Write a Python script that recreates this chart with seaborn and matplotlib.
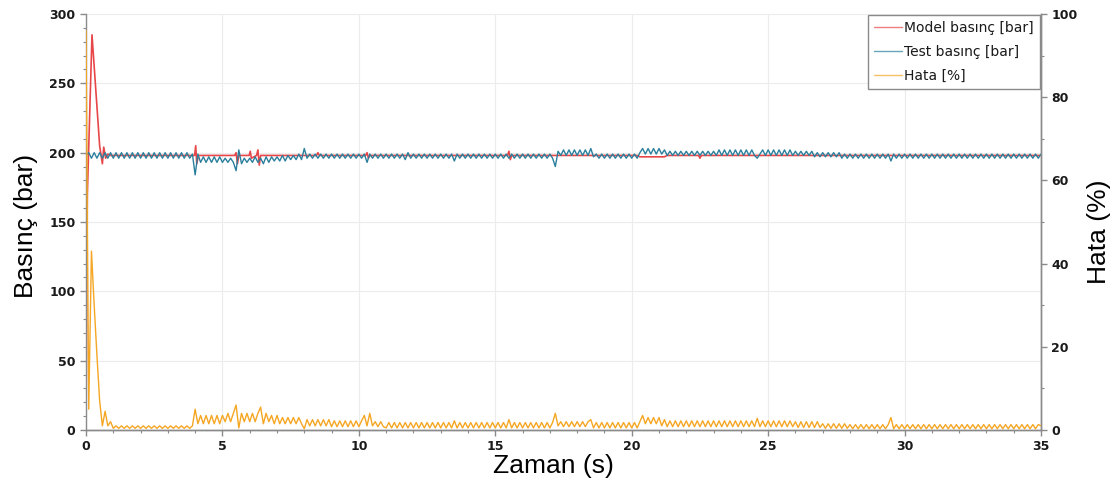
import numpy as np
import pandas as pd
import matplotlib
matplotlib.use("Agg")
import matplotlib.pyplot as plt
from matplotlib.ticker import MultipleLocator
import seaborn as sns

# ---------------- data ----------------
# Model pressure [bar]: breakpoints
model_t = [0.0, 0.05, 0.22, 0.5, 0.6, 0.65, 0.72, 0.8, 0.9,
           3.98, 4.02, 4.06, 4.12, 5.45, 5.5, 5.55, 5.6,
           5.98, 6.02, 6.06, 6.25, 6.3, 6.35, 6.4,
           8.45, 8.5, 8.55, 10.25, 10.3, 10.35, 10.4,
           15.45, 15.5, 15.55, 15.6, 20.2, 20.3, 21.2, 21.3,
           22.45, 22.5, 22.55, 35.0]
model_p = [5, 170, 285, 205, 192, 204, 196, 199, 198,
           198, 205, 192, 198, 198, 200, 192, 198,
           198, 201, 196, 198, 202, 191, 198,
           198, 200, 198, 198, 200, 196, 198,
           198, 201, 195, 198, 198, 197, 197, 198,
           198, 196, 198, 198]

# Test pressure [bar], sampled every 0.1 s
test_p = (
    [198, 200, 196, 200, 196, 200, 196, 200, 196, 200] +   # 0
    [196, 200, 196, 200, 196, 200, 196, 200, 196, 200] +   # 1
    [196, 200, 196, 200, 196, 200, 196, 200, 196, 200] +   # 2
    [196, 200, 196, 200, 196, 200, 196, 200, 196, 199] +   # 3
    [184, 199, 193, 197, 193, 197, 193, 197, 193, 197] +   # 4
    [193, 196, 193, 196, 193, 187, 202, 192, 196, 193] +   # 5
    [196, 193, 197, 193, 196, 192, 197, 193, 197, 194] +   # 6
    [197, 194, 198, 194, 198, 195, 198, 195, 199, 195] +   # 7
    [203, 196, 199, 196, 199, 196, 199, 196, 199, 196] +   # 8
    [199, 196, 199, 196, 199, 196, 199, 196, 199, 196] +   # 9
    [199, 196, 199, 193, 199, 196, 199, 196, 199, 196] +   # 10
    [199, 196, 199, 196, 199, 196, 199, 195, 200, 196] +   # 11
    [199, 196, 199, 196, 199, 196, 199, 196, 199, 196] +   # 12
    [199, 196, 199, 196, 199, 194, 199, 196, 199, 196] +   # 13
    [199, 196, 199, 196, 199, 196, 199, 196, 199, 196] +   # 14
    [199, 196, 199, 196, 199, 196, 199, 196, 199, 196] +   # 15
    [199, 196, 199, 196, 199, 196, 199, 196, 199, 196] +   # 16
    [199, 196, 190, 201, 198, 202, 198, 202, 198, 202] +   # 17
    [198, 202, 198, 202, 198, 203, 197, 199, 196, 199] +   # 18
    [196, 199, 196, 199, 196, 199, 196, 199, 196, 199] +   # 19
    [196, 199, 196, 200, 203, 199, 203, 199, 203, 199] +   # 20
    [203, 199, 202, 198, 201, 198, 201, 198, 201, 198] +   # 21
    [201, 198, 201, 198, 201, 198, 201, 198, 201, 198] +   # 22
    [201, 198, 202, 198, 202, 198, 202, 198, 202, 198] +   # 23
    [202, 198, 202, 198, 202, 198, 196, 199, 202, 198] +   # 24
    [202, 198, 202, 198, 202, 198, 202, 198, 202, 198] +   # 25
    [201, 198, 201, 198, 201, 198, 201, 197, 200, 197] +   # 26
    [200, 197, 200, 197, 200, 197, 200, 196, 199, 196] +   # 27
    [199, 196, 199, 196, 199, 196, 199, 196, 199, 196] +   # 28
    [199, 196, 199, 196, 199, 194, 199, 196, 199, 196] +   # 29
    [199, 196, 199, 196, 199, 196, 199, 196, 199, 196] +   # 30
    [199, 196, 199, 196, 199, 196, 199, 196, 199, 196] +   # 31
    [199, 196, 199, 196, 199, 196, 199, 196, 199, 196] +   # 32
    [199, 196, 199, 196, 199, 196, 199, 196, 199, 196] +   # 33
    [199, 196, 199, 196, 199, 196, 199, 196, 199, 196] +   # 34
    [199]
)

# Error [%], sampled every 0.1 s
hata = (
    [96, 5, 43, 30, 18, 7, 1, 4.5, 1, 2] +                          # 0
    [0.4, 1, 0.4, 1, 0.4, 1, 0.4, 1, 0.4, 1] +                      # 1
    [0.4, 1, 0.4, 1, 0.4, 1, 0.4, 1, 0.4, 1] +                      # 2
    [0.4, 1, 0.4, 1, 0.4, 1, 0.4, 1, 0.4, 1] +                      # 3
    [5, 1.5, 3.5, 1.5, 3.5, 1.5, 3.5, 1.5, 3.5, 1.5] +              # 4
    [3.5, 2, 4, 2, 4, 6, 0.5, 4, 2, 4] +                            # 5
    [2, 4, 2, 4, 5.5, 1.5, 4, 2, 3.5, 1.5] +                        # 6
    [3.5, 1.5, 3, 1.5, 3, 1.5, 3, 1.5, 3, 1.5] +                    # 7
    [0.3, 2.5, 1, 2.5, 1, 2.5, 1, 2.5, 1, 2.5] +                    # 8
    [0.8, 2.2, 0.8, 2.2, 0.8, 2.2, 0.8, 2.2, 0.8, 2.2] +            # 9
    [0.8, 2.2, 3.5, 1, 4, 1, 2, 0.8, 2, 0.8] +                      # 10
    [0.5, 1.8, 0.5, 1.8, 0.5, 1.8, 0.5, 1.8, 0.5, 1.8] +            # 11
    [0.5, 1.8, 0.5, 1.8, 0.5, 1.8, 0.5, 1.8, 0.5, 1.8] +            # 12
    [0.5, 1.8, 0.5, 1.8, 0.5, 2.2, 0.5, 1.8, 0.5, 1.8] +            # 13
    [0.5, 1.8, 0.5, 1.8, 0.5, 1.8, 0.5, 1.8, 0.5, 1.8] +            # 14
    [0.5, 1.8, 0.5, 1.8, 0.5, 2.5, 0.5, 1.8, 0.5, 1.8] +            # 15
    [0.5, 1.8, 0.5, 1.8, 0.5, 1.8, 0.5, 1.8, 0.5, 1.8] +            # 16
    [0.5, 1.8, 4, 1, 2, 0.8, 2, 0.8, 2, 0.8] +                      # 17
    [2, 0.8, 2, 0.8, 2, 2.5, 0.5, 1.8, 0.5, 1.8] +                  # 18
    [0.5, 1.8, 0.5, 1.8, 0.5, 1.8, 0.5, 1.8, 0.5, 1.8] +            # 19
    [0.5, 1.8, 0.5, 2, 3.5, 1.5, 3, 1.5, 3, 1.5] +                  # 20
    [3, 1, 2.5, 0.8, 2.2, 0.8, 2.2, 0.8, 2.2, 0.8] +                # 21
    [2.2, 0.8, 2.2, 0.8, 2.2, 0.8, 2.2, 0.8, 2.2, 0.8] +            # 22
    [2.2, 0.8, 2.2, 0.8, 2.2, 0.8, 2.2, 0.8, 2.2, 0.8] +            # 23
    [2.2, 0.8, 2.2, 0.8, 2.2, 0.8, 2.8, 0.8, 2.2, 0.8] +            # 24
    [2.2, 0.8, 2.2, 0.8, 2.2, 0.8, 2.2, 0.8, 2.2, 0.8] +            # 25
    [2, 0.6, 2, 0.6, 2, 0.6, 2, 0.6, 2, 0.6] +                      # 26
    [1.5, 0.4, 1.5, 0.4, 1.5, 0.4, 1.5, 0.4, 1.5, 0.4] +            # 27
    [1.3, 0.3, 1.3, 0.3, 1.3, 0.3, 1.3, 0.3, 1.3, 0.3] +            # 28
    [1.3, 0.3, 1.3, 0.3, 1.3, 3, 0.3, 1.3, 0.3, 1.3] +              # 29
    [0.3, 1.3, 0.3, 1.3, 0.3, 1.3, 0.3, 1.3, 0.3, 1.3] +            # 30
    [0.3, 1.3, 0.3, 1.3, 0.3, 1.3, 0.3, 1.3, 0.3, 1.3] +            # 31
    [0.3, 1.3, 0.3, 1.3, 0.3, 1.3, 0.3, 1.3, 0.3, 1.3] +            # 32
    [0.3, 1.3, 0.3, 1.3, 0.3, 1.3, 0.3, 1.3, 0.3, 1.3] +            # 33
    [0.3, 1.3, 0.3, 1.3, 0.3, 1.3, 0.3, 1.3, 0.3, 1.3] +            # 34
    [1]
)
sample_t = np.round(np.arange(len(test_p)) * 0.1, 1)

labels = ["Model basınç [bar]", "Test basınç [bar]", "Hata [%]"]
colors = ["#e8474a", "#2a7f9c", "#f5a623"]

# ---------------- plotting ----------------
sns.set_theme(style="white")
plt.rcParams["font.family"] = ["DejaVu Sans"]

fig = plt.figure(figsize=(11.16, 4.83), dpi=100)
ax = fig.add_axes([86/1116, 1-430/483, (1041-86)/1116, (430-14)/483])
ax2 = ax.twinx()

df_model = pd.DataFrame({"t": model_t, "p": model_p})
df_test = pd.DataFrame({"t": sample_t, "p": test_p})
df_err = pd.DataFrame({"t": sample_t, "e": hata})

sns.lineplot(data=df_model, x="t", y="p", ax=ax, color=colors[0], lw=1.2,
             estimator=None, sort=False, label=labels[0], legend=False)
sns.lineplot(data=df_test, x="t", y="p", ax=ax, color=colors[1], lw=1.0,
             estimator=None, sort=False, label=labels[1], legend=False)
sns.lineplot(data=df_err, x="t", y="e", ax=ax2, color=colors[2], lw=1.0,
             estimator=None, sort=False, label=labels[2], legend=False)
for ln in ax2.get_lines():
    ln.set_zorder(3)

ax.set_xlim(0, 35)
ax.set_ylim(0, 300)
ax2.set_ylim(0, 100)
ax.xaxis.set_major_locator(MultipleLocator(5))
ax.xaxis.set_minor_locator(MultipleLocator(1))
ax.yaxis.set_major_locator(MultipleLocator(50))
ax.yaxis.set_minor_locator(MultipleLocator(10))
ax2.yaxis.set_major_locator(MultipleLocator(20))
ax2.yaxis.set_minor_locator(MultipleLocator(10))

ax.grid(True, which="major", color="#ececec", lw=0.8)
ax.set_axisbelow(True)
ax.set_xlabel("")
ax.set_ylabel("")
ax2.set_ylabel("")

spine_c = "#8a8a8a"
for a in (ax, ax2):
    for s in ("left", "bottom", "right"):
        a.spines[s].set_color(spine_c)
        a.spines[s].set_linewidth(1.0)
    a.spines["top"].set_visible(False)
    a.tick_params(which="both", direction="out", color=spine_c,
                  labelsize=9, labelcolor="#1a1a1a")
    a.tick_params(which="major", length=4, width=1)
    a.tick_params(which="minor", length=2.5, width=0.8)
ax2.spines["left"].set_visible(False)
ax.tick_params(axis="y", which="both", left=True, right=False)
ax.tick_params(axis="x", which="both", bottom=True)
ax2.tick_params(axis="y", which="both", right=True, left=False)
for lab in ax.get_xticklabels() + ax.get_yticklabels() + ax2.get_yticklabels():
    lab.set_fontweight("bold")

fig.text(26/1116, 1-226/483, "Basınç (bar)", rotation=90, ha="center",
         va="center", fontsize=19, family="Liberation Sans", color="black")
fig.text(553/1116, 1-466/483, "Zaman (s)", ha="center", va="center",
         fontsize=19, family="Liberation Sans", color="black")
fig.text(1099/1116, 1-232/483, "Hata (%)", rotation=90, ha="center",
         va="center", fontsize=19, family="Liberation Sans", color="black")

h1, l1 = ax.get_legend_handles_labels()
h2, l2 = ax2.get_legend_handles_labels()
leg = ax2.legend(h1 + h2, l1 + l2, loc="upper right", fontsize=10,
                 frameon=True, fancybox=False, framealpha=1,
                 edgecolor="#8a8a8a", handlelength=2.0, handletextpad=0.2,
                 borderpad=0.45, labelspacing=0.7, borderaxespad=0.05)
leg.get_frame().set_linewidth(1.0)
leg.set_zorder(5)
for txt in leg.get_texts():
    txt.set_color("#1a1a1a")
for h in leg.get_lines():
    h.set_linewidth(1.0)
    h.set_alpha(0.7)

fig.savefig("out.png", dpi=100)
